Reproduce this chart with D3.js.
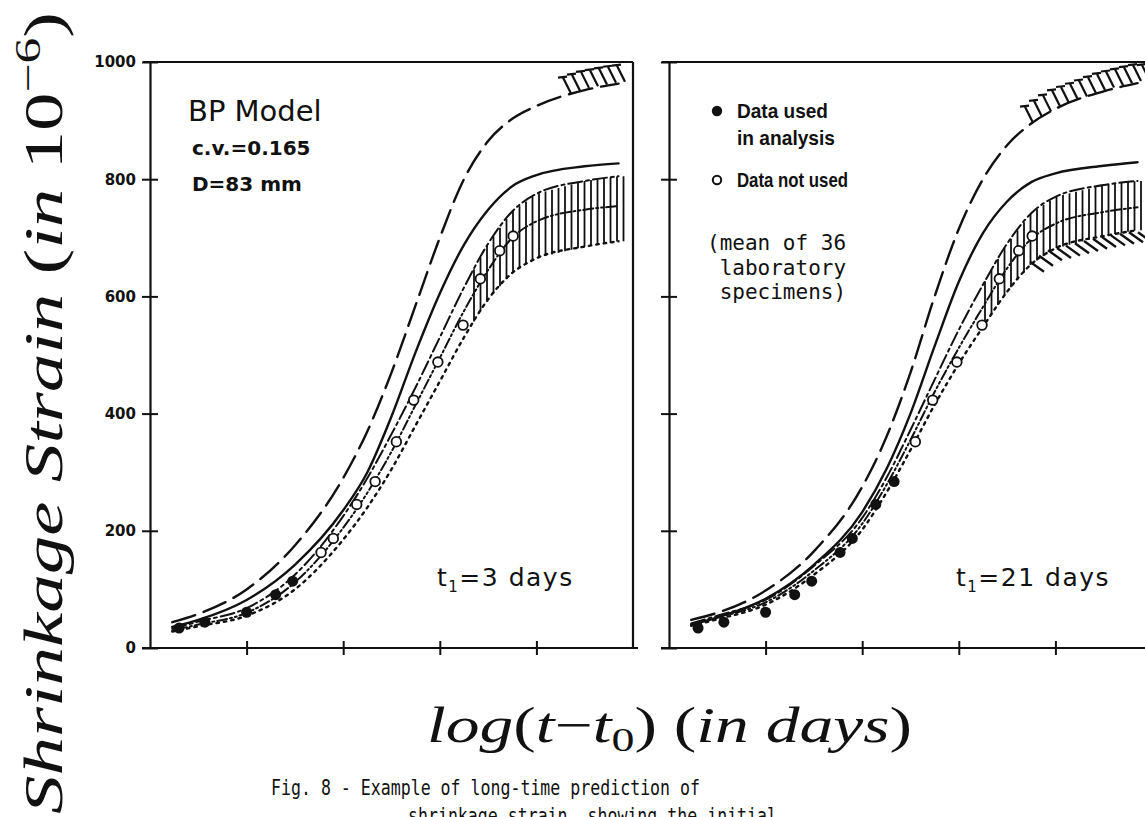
<!DOCTYPE html>
<html>
<head>
<meta charset="utf-8">
<script src="https://cdn.jsdelivr.net/npm/d3@7"></script>
<style>
  html, body { margin: 0; padding: 0; background: #fff; }
  svg { display: block; }
</style>
</head>
<body>
<div id="graphic"></div>
<script>
// measured shrinkage, mean of 36 lab specimens (t - t0 in days, strain in 1e-6)
var timeDays       = [2, 3.7, 10, 20, 30, 59, 79, 138, 214, 355, 537, 955, 1740, 2630, 4170, 5750];
var strainMeasured = [34, 44, 61, 91, 114, 163, 187, 245, 284, 352, 423, 488, 551, 630, 678, 703];
var usedT3  = 5;   // points used in analysis, t1 = 3 days
var usedT21 = 9;   // points used in analysis, t1 = 21 days

// prediction curves at these times
var gridTimes = [1.7, 3.16, 10, 31.6, 100, 178, 316, 562, 1000, 1778, 3162, 5623, 10000, 31623, 70795];

var longDashT3 = [44, 58, 100, 175, 290, 370, 470, 585, 700, 800, 865, 903, 925, 952, 963];
var solidT3    = [36, 48, 82, 142, 235, 300, 395, 505, 605, 688, 748, 788, 807, 822, 827];
var upperT3    = [33, 45, 68, 125, 225, 290, 365, 445, 530, 615, 690, 745, 775, 797, 805];
var meanT3     = [30, 40, 60, 112, 205, 265, 335, 415, 495, 575, 645, 700, 728, 748, 754];
var lowerT3    = [28, 37, 55, 100, 185, 240, 305, 380, 455, 530, 595, 640, 665, 685, 694];

var longDashT21 = [48, 60, 98, 165, 275, 360, 470, 600, 715, 800, 858, 895, 920, 950, 964];
var solidT21    = [40, 52, 84, 142, 232, 305, 400, 515, 625, 708, 762, 795, 810, 823, 829];
var upperT21    = [42, 55, 82, 140, 222, 290, 372, 458, 543, 620, 690, 742, 770, 790, 797];
var meanT21     = [40, 52, 78, 132, 212, 278, 355, 437, 512, 582, 648, 698, 724, 744, 752];
var lowerT21    = [38, 49, 74, 125, 202, 265, 338, 415, 485, 548, 608, 655, 682, 703, 713];

var yTicks = [0, 200, 400, 600, 800, 1000];
var xTicks = [10, 100, 1000, 10000];

(function(d3) {
  var W = 1145, H = 817, ink = "#111";

  var svg = d3.select("#graphic").append("svg")
      .attr("width", W).attr("height", H)
      .style("font-family", "'DejaVu Sans', sans-serif");

  function panel(opt) {
    var g = svg.append("g");
    var x = d3.scaleLog().domain([1, 1e5]).range([opt.left, opt.left + 483]);
    var y = d3.scaleLinear().domain([0, 1000]).range([648, 62]);
    var lg = gridTimes.map(function(t) { return Math.log10(t); });

    // interpolators in log-time used for hatching
    function at(arr) { return d3.scaleLinear().domain(lg).range(arr).clamp(true); }

    // frame
    g.append("line").attr("x1", opt.left - 7).attr("x2", opt.left + 483).attr("y1", 62).attr("y2", 62);
    if (opt.right) g.append("line").attr("x1", opt.left + 483).attr("x2", opt.left + 483).attr("y1", 62).attr("y2", 648);
    g.append("line").attr("x1", opt.left - 8).attr("x2", opt.left + 488).attr("y1", 648).attr("y2", 648);
    g.selectAll("line").attr("stroke", ink).attr("stroke-width", 2.2);

    // y axis
    var ya = g.append("g").attr("transform", "translate(" + opt.left + ",0)")
      .call(d3.axisLeft(y).tickValues(yTicks).tickSize(8).tickSizeOuter(0).tickPadding(6)
        .tickFormat(opt.labels ? d3.format("d") : ""));
    ya.select(".domain").attr("stroke", ink).attr("stroke-width", 2.2);
    ya.selectAll(".tick line").attr("x1", 8).attr("stroke", ink).attr("stroke-width", 2);
    ya.selectAll(".tick text").attr("fill", ink)
      .style("font-family", "'DejaVu Sans', sans-serif").style("font-weight", "bold").style("font-size", "15px");

    // x axis (log time, unlabeled decades)
    var xa = g.append("g").attr("transform", "translate(0,648)")
      .call(d3.axisBottom(x).tickValues(xTicks).tickSize(7).tickSizeOuter(0).tickFormat(""));
    xa.select(".domain").remove();
    xa.selectAll(".tick line").attr("y1", -7).attr("stroke", ink).attr("stroke-width", 2);

    var line = d3.line()
      .x(function(d) { return x(d[0]); })
      .y(function(d) { return y(d[1]); })
      .curve(d3.curveMonotoneX);

    function curve(arr, dash, w) {
      g.append("path").datum(d3.zip(gridTimes, arr))
        .attr("d", line).attr("fill", "none").attr("stroke", ink)
        .attr("stroke-width", w).attr("stroke-dasharray", dash)
        .attr("stroke-linecap", "round");
    }

    // hatched scatter band
    var fu = at(opt.upper), fl = at(opt.lower);
    var hatch = g.append("g").attr("stroke", ink).attr("stroke-width", 1.8);
    for (var px = opt.bandFrom; px <= opt.left + 478; px += 6.5) {
      var lt = Math.log10(x.invert(px));
      hatch.append("line").attr("x1", px).attr("x2", px)
        .attr("y1", y(fu(lt))).attr("y2", y(fl(lt)));
    }
    if (opt.diagFrom) {
      for (px = opt.diagFrom; px <= opt.left + 478; px += 9) {
        var l2 = Math.log10(x.invert(px)), yy = y(fl(l2));
        hatch.append("line").attr("x1", px - 8).attr("y1", yy + 2)
          .attr("x2", px + 6).attr("y2", yy + 12).attr("stroke-width", 2.4);
      }
    }

    // hatch above the long-dash curve
    var fd = at(opt.longDash);
    var top = g.append("g").attr("stroke", ink).attr("stroke-width", 2.2);
    for (px = opt.topFrom; px <= opt.left + 478; px += 9) {
      var l3 = Math.log10(x.invert(px)), yd = y(fd(l3));
      top.append("line").attr("x1", px + 3).attr("y1", yd - 2).attr("x2", px - 5).attr("y2", yd - 18);
      top.append("line").attr("x1", px - 10).attr("y1", yd - 18).attr("x2", px - 1).attr("y2", yd - 19);
    }

    curve(opt.longDash, "24,9", 2.4);
    curve(opt.solid, null, 2.4);
    curve(opt.upper, "14,4,3,4", 2);
    curve(opt.mean, "10,3,2,3,2,3", 2);
    curve(opt.lower, "2.5,5", 2.4);

    // measured points
    var pts = d3.zip(timeDays, strainMeasured);
    g.selectAll("circle.pt").data(pts).enter().append("circle")
      .attr("class", "pt")
      .attr("cx", function(d) { return x(d[0]); })
      .attr("cy", function(d) { return y(d[1]); })
      .attr("r", function(d, i) { return i < opt.used ? 5.5 : 4.8; })
      .attr("fill", function(d, i) { return i < opt.used ? ink : "#fff"; })
      .attr("stroke", ink)
      .attr("stroke-width", function(d, i) { return i < opt.used ? 0 : 1.8; });

    // t1 label
    var t = g.append("text").attr("x", opt.left + 287).attr("y", 586)
      .attr("fill", ink).style("font-size", "25px").style("letter-spacing", "1.5px");
    t.append("tspan").text("t");
    t.append("tspan").attr("dy", 6).style("font-size", "15px").text("1");
    t.append("tspan").attr("dy", -6).text(opt.t1);
    return g;
  }

  panel({ left: 150, labels: true, right: true, used: usedT3, t1: "=3 days",
    longDash: longDashT3, solid: solidT3, upper: upperT3, mean: meanT3, lower: lowerT3,
    bandFrom: 474, topFrom: 568 });

  panel({ left: 669, labels: false, right: false, used: usedT21, t1: "=21 days",
    longDash: longDashT21, solid: solidT21, upper: upperT21, mean: meanT21, lower: lowerT21,
    bandFrom: 985, diagFrom: 1038, topFrom: 1030 });

  // model annotation
  svg.append("text").attr("x", 188).attr("y", 121).attr("fill", ink)
    .style("font-size", "29px").text("BP Model");
  svg.append("text").attr("x", 192).attr("y", 155).attr("fill", ink)
    .style("font-size", "20px").style("font-weight", "bold").text("c.v.=0.165");
  svg.append("text").attr("x", 192).attr("y", 191).attr("fill", ink)
    .style("font-size", "20px").style("font-weight", "bold").text("D=83 mm");

  // legend
  svg.append("circle").attr("cx", 717).attr("cy", 111).attr("r", 5.2).attr("fill", ink);
  svg.append("circle").attr("cx", 717).attr("cy", 180).attr("r", 4.2)
    .attr("fill", "#fff").attr("stroke", ink).attr("stroke-width", 2);
  [["Data used", 118, 91], ["in analysis", 145, 98], ["Data not used", 187, 111]].forEach(function(d) {
    svg.append("text").attr("x", 737).attr("y", d[1]).attr("fill", ink)
      .attr("textLength", d[2]).attr("lengthAdjust", "spacingAndGlyphs")
      .style("font-family", "'Liberation Sans', sans-serif").style("font-weight", "bold")
      .style("font-size", "21px").text(d[0]);
  });
  [["(mean of 36", 250], [" laboratory", 275], [" specimens)", 299]].forEach(function(d) {
    svg.append("text").attr("x", 707).attr("y", d[1]).attr("fill", ink)
      .style("font-family", "'DejaVu Sans Mono', monospace").style("font-size", "21px")
      .style("white-space", "pre").attr("xml:space", "preserve").text(d[0]);
  });

  // axis titles
  var serif = "'Liberation Serif', 'DejaVu Serif', serif";
  var xt = svg.append("text").attr("x", 427).attr("y", 742).attr("fill", ink)
    .attr("textLength", 485).attr("lengthAdjust", "spacingAndGlyphs")
    .style("font-family", serif).style("font-size", "50px");
  xt.append("tspan").style("font-style", "italic").text("log");
  xt.append("tspan").text("(");
  xt.append("tspan").style("font-style", "italic").text("t");
  xt.append("tspan").text("\u2212");
  xt.append("tspan").style("font-style", "italic").text("t");
  xt.append("tspan").attr("dy", 9).style("font-size", "34px").text("0");
  xt.append("tspan").attr("dy", -9).text(") (");
  xt.append("tspan").style("font-style", "italic").text("in days");
  xt.append("tspan").text(")");

  var yt = svg.append("text").attr("transform", "translate(62,814) rotate(-90)").attr("fill", ink)
    .attr("textLength", 802).attr("lengthAdjust", "spacingAndGlyphs")
    .style("font-family", serif).style("font-size", "54px");
  yt.append("tspan").style("font-style", "italic").text("Shrinkage Strain ");
  yt.append("tspan").text("(");
  yt.append("tspan").style("font-style", "italic").text("in ");
  yt.append("tspan").text("10");
  yt.append("tspan").attr("dy", -22).style("font-size", "36px").text("\u22126");
  yt.append("tspan").attr("dy", 22).text(")");

  // caption (second line runs off the bottom edge, as in the source figure)
  svg.append("text").attr("x", 271).attr("y", 795).attr("fill", ink)
    .attr("textLength", 429).attr("lengthAdjust", "spacingAndGlyphs")
    .style("font-family", "'DejaVu Sans Mono', monospace").style("font-size", "22px")
    .text("Fig. 8 - Example of long-time prediction of");
  svg.append("text").attr("x", 408).attr("y", 823).attr("fill", ink)
    .attr("textLength", 369).attr("lengthAdjust", "spacingAndGlyphs")
    .style("font-family", "'DejaVu Sans Mono', monospace").style("font-size", "22px")
    .text("shrinkage strain, showing the initial");
})(d3);
</script>
</body>
</html>
